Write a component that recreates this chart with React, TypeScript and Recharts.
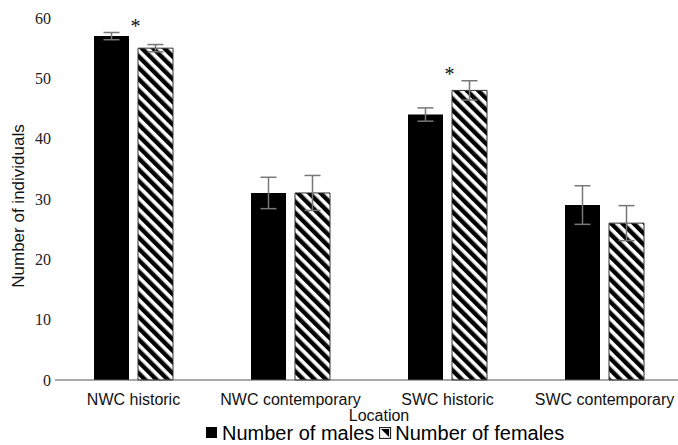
import { BarChart, Bar, XAxis, YAxis, ErrorBar, LabelList, Legend } from 'recharts';

// Number of individuals by sampling location
const locations = ['NWC historic', 'NWC contemporary', 'SWC historic', 'SWC contemporary'];
const males = [57, 31, 44, 29];
const malesErr = [0.6, 2.6, 1.1, 3.2];
const females = [55, 31, 48, 26];
const femalesErr = [0.6, 2.9, 1.6, 2.9];
const significance = ['*', '', '*', ''];
const yTicks = [0, 10, 20, 30, 40, 50, 60];

const data = locations.map((loc, i) => ({
  location: loc,
  males: males[i],
  malesErr: malesErr[i],
  females: females[i],
  femalesErr: femalesErr[i],
  sig: significance[i],
}));

const SANS = '"Liberation Sans", Arial, sans-serif';
const SERIF = '"Liberation Serif", "Times New Roman", serif';
const GAP = 9;

// asterisk drawn between the two bars, above the taller error bar
const Star = (props: any) => {
  const { x, y, width, height, index } = props;
  const d = data[index];
  if (!d.sig) return null;
  const pxPerUnit = height / d.females;
  const topVal = Math.max(d.males + d.malesErr, d.females + d.femalesErr) + 1.3;
  const cy = y + height - topVal * pxPerUnit;
  return (
    <text
      x={x - GAP / 2 + 2}
      y={cy + 8}
      textAnchor="middle"
      fontFamily={SERIF}
      fontSize={20}
      fill="#111"
    >
      {d.sig}
    </text>
  );
};

const YLabel = (props: any) => {
  const { viewBox } = props;
  const cx = 18;
  const cy = viewBox.y + viewBox.height / 2 + 7;
  return (
    <text
      x={cx}
      y={cy}
      transform={`rotate(-90 ${cx} ${cy})`}
      textAnchor="middle"
      dominantBaseline="central"
      fontFamily={SANS}
      fontSize={17}
      fill="#111"
    >
      Number of individuals
    </text>
  );
};

const LegendContent = () => (
  <div
    style={{
      display: 'flex',
      alignItems: 'center',
      paddingLeft: 206,
      fontFamily: SANS,
      fontSize: 20,
      color: '#000',
      height: 24,
      lineHeight: '24px',
    }}
  >
    <svg width={12} height={12} style={{ marginRight: 4 }}>
      <rect x={0} y={0} width={11} height={11} fill="#000" />
    </svg>
    <span style={{ marginRight: 5 }}>Number of males</span>
    <svg width={13} height={12} style={{ marginRight: 3 }}>
      <rect x={0.5} y={0.5} width={11} height={11} fill="#fff" stroke="#222" strokeWidth={1.2} />
      <polygon points="2,2 10,10 10,2" fill="#000" />
    </svg>
    <span>Number of females</span>
  </div>
);

export default function App() {
  return (
    <div style={{ position: 'absolute', left: 0, top: 0, background: '#fff' }}>
      <BarChart
        width={678}
        height={445}
        data={data}
        margin={{ top: 18, right: -5, left: 0, bottom: 0 }}
        barSize={35}
        barGap={GAP}
      >
        <defs>
          <pattern
            id="hatch"
            patternUnits="userSpaceOnUse"
            width={8}
            height={8}
            patternTransform="rotate(-45)"
          >
            <rect width={8} height={8} fill="#fff" />
            <rect x={0} y={0} width={4.4} height={8} fill="#000" />
          </pattern>
        </defs>
        <XAxis
          dataKey="location"
          height={41}
          tickLine={false}
          tickSize={0}
          tickMargin={14}
          axisLine={{ stroke: '#555', strokeWidth: 1.2 }}
          tick={{ fontFamily: SANS, fontSize: 16, fill: '#111' }}
          interval={0}
          label={{
            value: 'Location',
            position: 'insideBottom',
            offset: 0,
            dx: 10,
            style: { fontFamily: SANS, fontSize: 16, fill: '#111' },
          }}
        />
        <YAxis
          width={55}
          domain={[0, 60]}
          ticks={yTicks}
          axisLine={false}
          tickLine={false}
          tickSize={0}
          tickMargin={4}
          tick={{ fontFamily: SERIF, fontSize: 16, fill: '#222' }}
          label={<YLabel />}
        />
        <Legend verticalAlign="bottom" content={<LegendContent />} wrapperStyle={{ left: 0, width: 678 }} />
        <Bar dataKey="males" name="Number of males" fill="#000" isAnimationActive={false}>
          <ErrorBar dataKey="malesErr" width={8} stroke="#777" strokeWidth={1.5} />
        </Bar>
        <Bar
          dataKey="females"
          name="Number of females"
          fill="url(#hatch)"
          stroke="#333"
          strokeWidth={1}
          isAnimationActive={false}
        >
          <ErrorBar dataKey="femalesErr" width={8} stroke="#777" strokeWidth={1.5} />
          <LabelList dataKey="sig" content={<Star />} />
        </Bar>
      </BarChart>
    </div>
  );
}
